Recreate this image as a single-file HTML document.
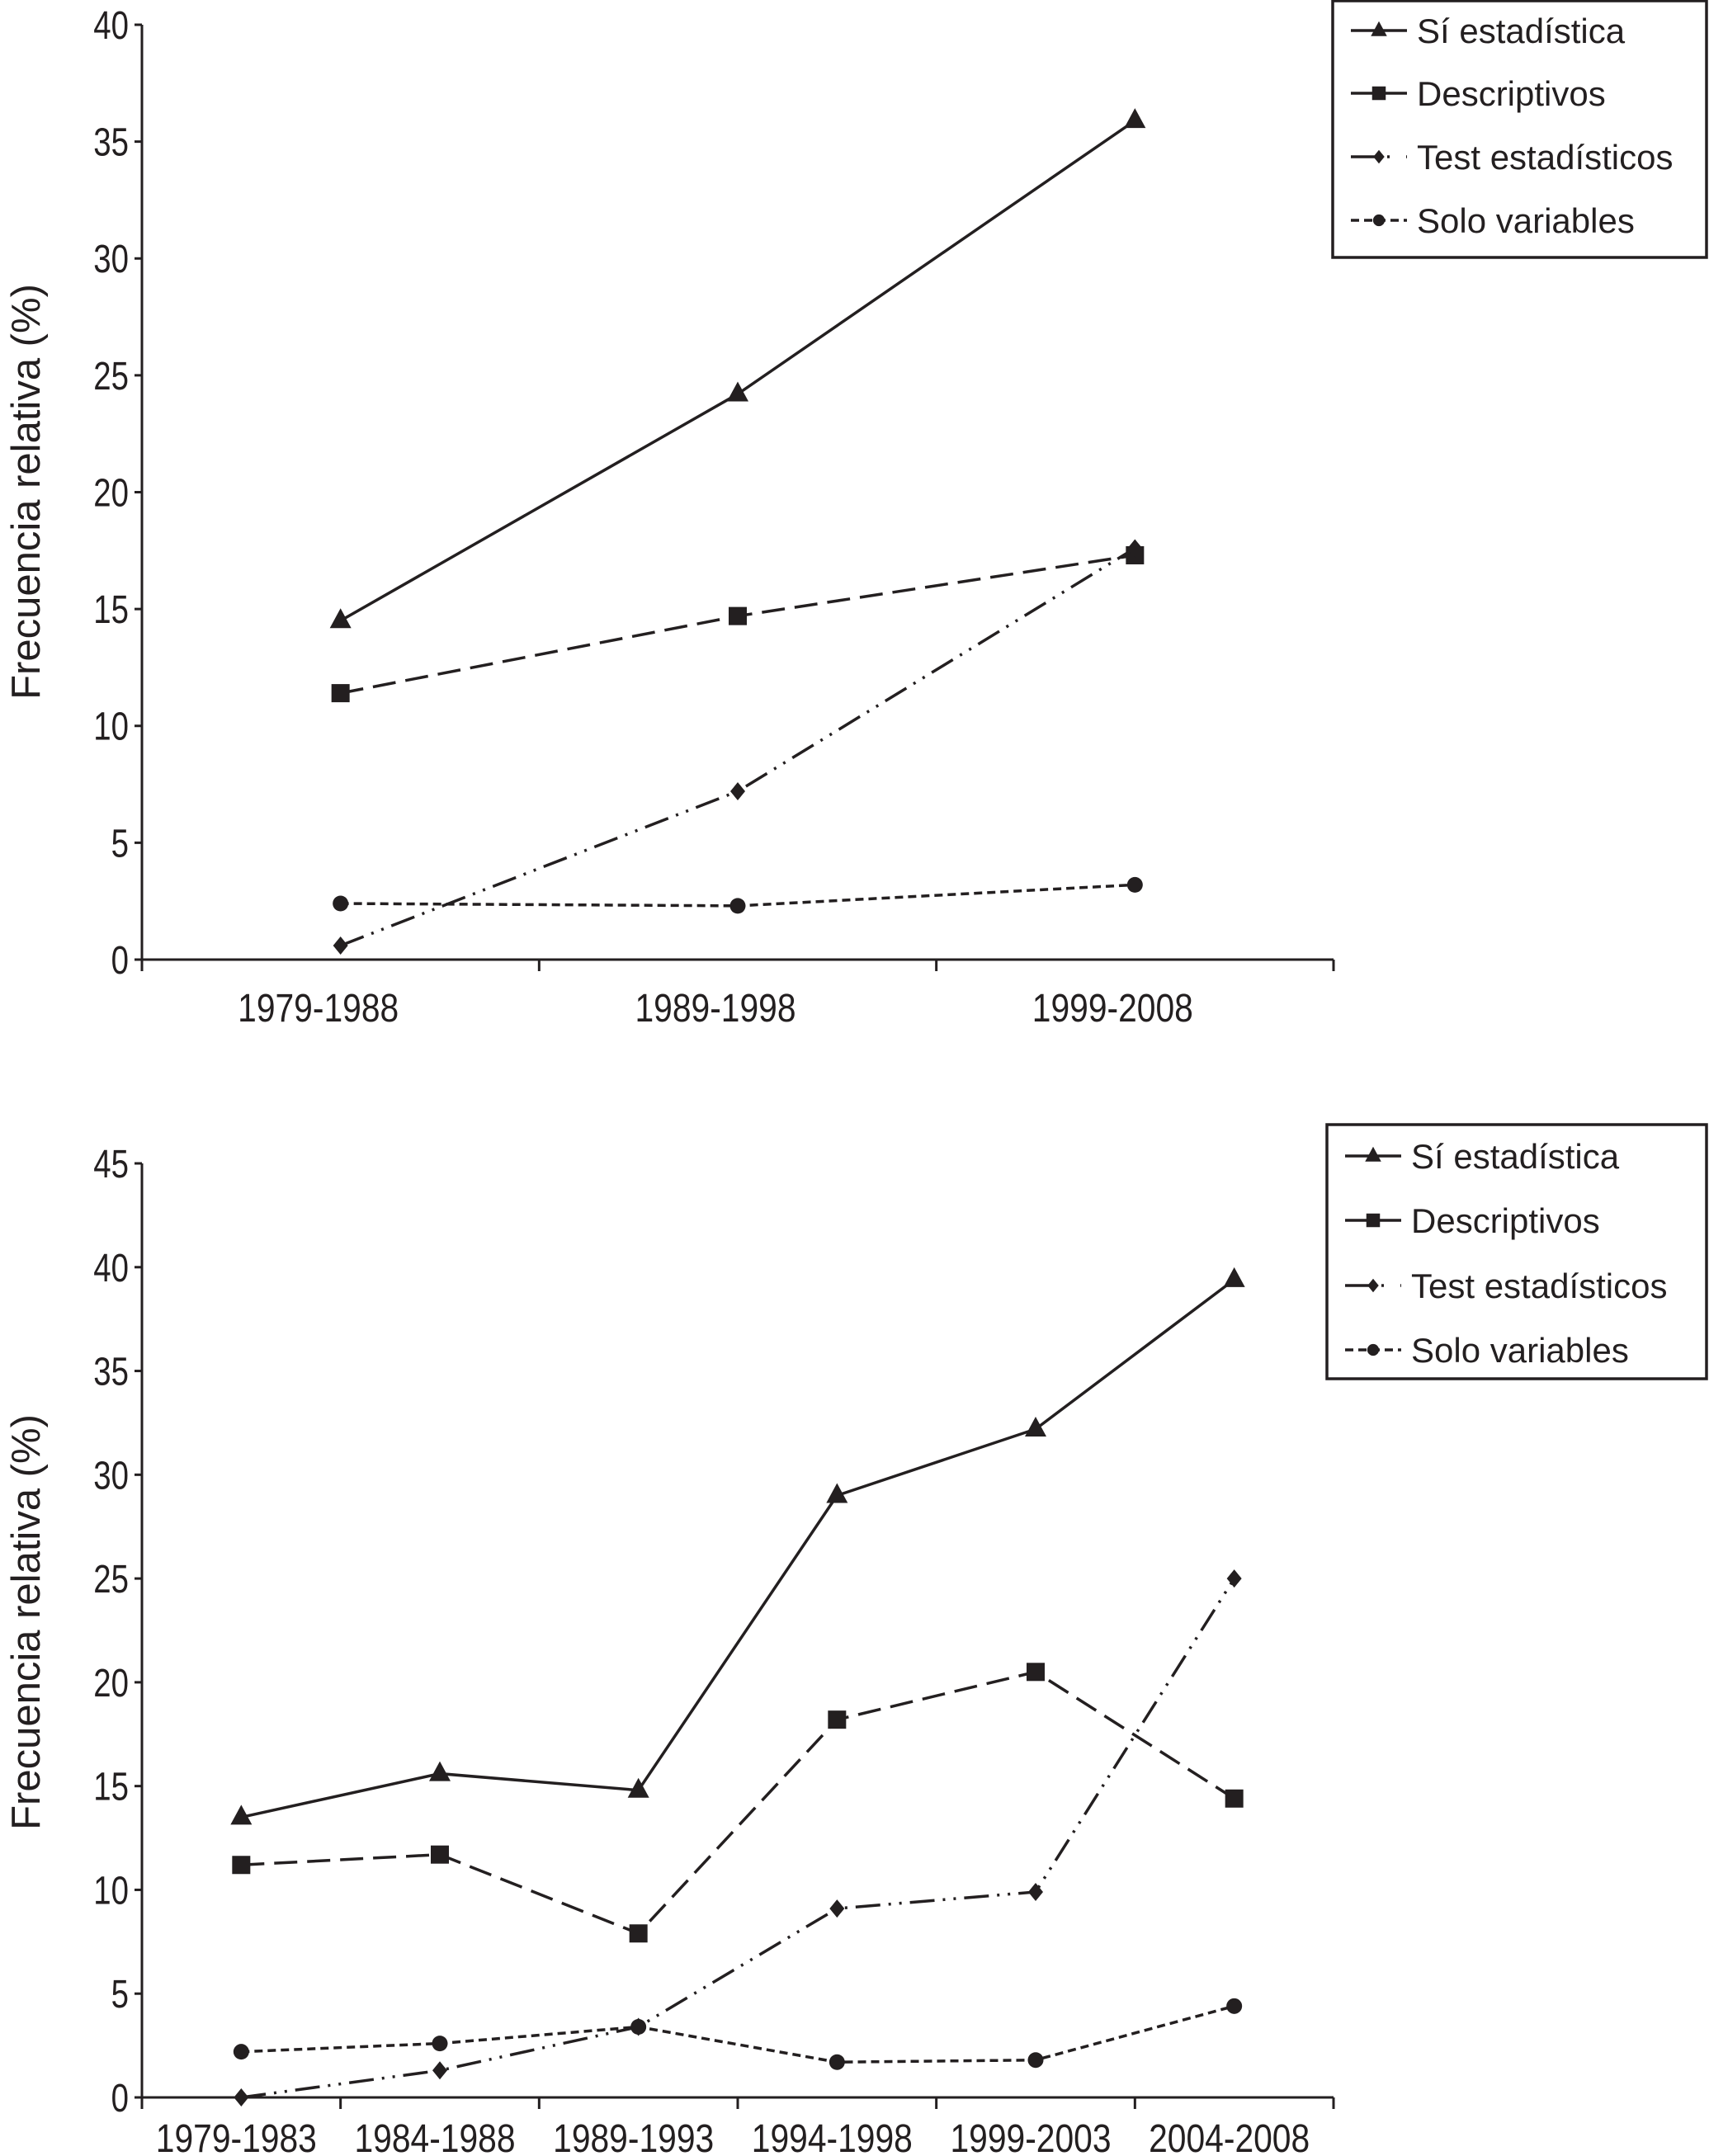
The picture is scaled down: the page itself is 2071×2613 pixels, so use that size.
<!DOCTYPE html>
<html><head><meta charset="utf-8">
<style>
html,body{margin:0;padding:0;background:#fff;}
svg{display:block;}
text{font-family:"Liberation Sans",sans-serif;fill:#231f20;}
</style></head>
<body>
<svg id="root" width="2071" height="2613" viewBox="0 0 2071 2613" xmlns="http://www.w3.org/2000/svg"></svg>
<script>
const catsTop = ["1979-1988","1989-1998","1999-2008"];
const siTop = [14.5, 24.2, 35.9];
const descTop = [11.4, 14.7, 17.3];
const testTop = [0.6, 7.2, 17.6];
const soloTop = [2.4, 2.3, 3.2];
const ticksTop = [0,5,10,15,20,25,30,35,40];

const catsBot = ["1979-1983","1984-1988","1989-1993","1994-1998","1999-2003","2004-2008"];
const siBot = [13.5, 15.6, 14.8, 29.0, 32.2, 39.4];
const descBot = [11.2, 11.7, 7.9, 18.2, 20.5, 14.4];
const testBot = [0, 1.3, 3.4, 9.1, 9.9, 25.0];
const soloBot = [2.2, 2.6, 3.4, 1.7, 1.8, 4.4];
const ticksBot = [0,5,10,15,20,25,30,35,40,45];

const legendLabels = ["Sí estadística","Descriptivos","Test estadísticos","Solo variables"];

const NS = "http://www.w3.org/2000/svg";
const root = document.getElementById('root');
function mk(tag, attrs, parent){
  const e = document.createElementNS(NS, tag);
  for (const k in attrs) e.setAttribute(k, attrs[k]);
  (parent||root).appendChild(e);
  return e;
}
const styles = [
  {dash:"", marker:"tri"},
  {dash:"28,12", marker:"sq"},
  {dash:"30,10,3,10,3,10", marker:"dia"},
  {dash:"10,6", marker:"circ"}
];
const seriesNames = ["series-si-estadistica","series-descriptivos","series-test-estadisticos","series-solo-variables"];

function marker(g, type, x, y, s){
  s = s||1;
  let m;
  if (type==="tri") m = mk('polygon',{points:`${x},${y-15*s} ${x-13*s},${y+9*s} ${x+13*s},${y+9*s}`,fill:'#231f20'},g);
  else if (type==="sq") m = mk('rect',{x:x-11*s,y:y-11*s,width:22*s,height:22*s,fill:'#231f20'},g);
  else if (type==="dia") m = mk('polygon',{points:`${x},${y-11*s} ${x+9*s},${y} ${x},${y+11*s} ${x-9*s},${y}`,fill:'#231f20'},g);
  else m = mk('circle',{cx:x,cy:y,r:9.5*s,fill:'#231f20'},g);
  
  
}

function chart(cfg){
  const g = mk('g',{});
  
  
  const x0=cfg.x0, x1=cfg.x1, y0=cfg.y0, yTop=cfg.yTop, vmax=cfg.ticks[cfg.ticks.length-1];
  const yS = v => y0 - (v/vmax)*(y0-yTop);
  const n = cfg.cats.length, step=(x1-x0)/n;
  const xS = i => x0 + step*(i+0.5);
  const ya = mk('line',{x1:x0,y1:yTop,x2:x0,y2:y0,stroke:'#231f20','stroke-width':3},g);
   
  const xa = mk('line',{x1:x0,y1:y0,x2:x1,y2:y0,stroke:'#231f20','stroke-width':3},g);
   
  cfg.ticks.forEach(t=>{
    mk('line',{x1:x0-9,y1:yS(t),x2:x0,y2:yS(t),stroke:'#231f20','stroke-width':3},g);
    const tx = mk('text',{x:x0-16,y:yS(t)+17,'text-anchor':'end','font-size':48,transform:`translate(${x0-16},0) scale(0.8,1) translate(${-(x0-16)},0)`},g);
    tx.textContent=t;
     
  });
  for(let i=0;i<=n;i++){
    const xx=x0+step*i;
    mk('line',{x1:xx,y1:y0,x2:xx,y2:y0+14,stroke:'#231f20','stroke-width':3},g);
  }
  cfg.cats.forEach((c,i)=>{
    const lx = xS(i)+cfg.labelDx;
    const tx = mk('text',{x:lx,y:cfg.labelY,'text-anchor':'middle','font-size':48,transform:`translate(${lx},0) scale(0.85,1) translate(${-lx},0)`},g);
    tx.textContent=c;
     
  });
  const ttl = mk('text',{x:0,y:0,'text-anchor':'middle','font-size':49,transform:`translate(48,${cfg.titleY}) rotate(-90)`},g);
  ttl.textContent='Frecuencia relativa (%)';
   
  cfg.series.forEach((s,si)=>{
    const sg = mk('g',{},g);
    
    
    const pts = s.map((v,i)=>`${xS(i)},${yS(v)}`).join(' ');
    const attrs={points:pts,fill:'none',stroke:'#231f20','stroke-width':3.5};
    if(styles[si].dash) attrs['stroke-dasharray']=styles[si].dash;
    mk('polyline',attrs,sg);
    s.forEach((v,i)=>marker(sg,styles[si].marker,xS(i),yS(v)));
  });
  const L=cfg.legend;
  const lg = mk('g',{},g);
  
  
  mk('rect',{x:L.x,y:L.y,width:L.w,height:L.h,fill:'#fff',stroke:'#231f20','stroke-width':3.5},lg);
  legendLabels.forEach((lab,i)=>{
    const ey=L.ys[i];
    const eg = mk('g',{},lg);
    
    
    const la={x1:L.x+22,y1:ey,x2:L.x+90,y2:ey,stroke:'#231f20','stroke-width':3.5};
    if(i===2) la['stroke-dasharray']='30,14,3,20';
    if(i===3) la['stroke-dasharray']='10,6';
    mk('line',la,eg);
    marker(eg,styles[i].marker,L.x+56,ey,0.75);
    const t=mk('text',{x:L.x+102,y:ey+15,'font-size':42},eg);
    t.textContent=lab;
  });
}

chart({name:'chart-by-decade',x0:172,x1:1616,y0:1163,yTop:30,ticks:ticksTop,cats:catsTop,labelY:1238,labelDx:-27,titleY:596,
  series:[siTop,descTop,testTop,soloTop],
  legend:{x:1615,y:1,w:453,h:311,ys:[37,113,190,267]}});
chart({name:'chart-by-five-years',x0:172,x1:1616,y0:2542,yTop:1410,ticks:ticksBot,cats:catsBot,labelY:2608,labelDx:-6,titleY:1966,
  series:[siBot,descBot,testBot,soloBot],
  legend:{x:1608,y:1363,w:460,h:308,ys:[1401,1479,1558,1636]}});
</script>
</body></html>
